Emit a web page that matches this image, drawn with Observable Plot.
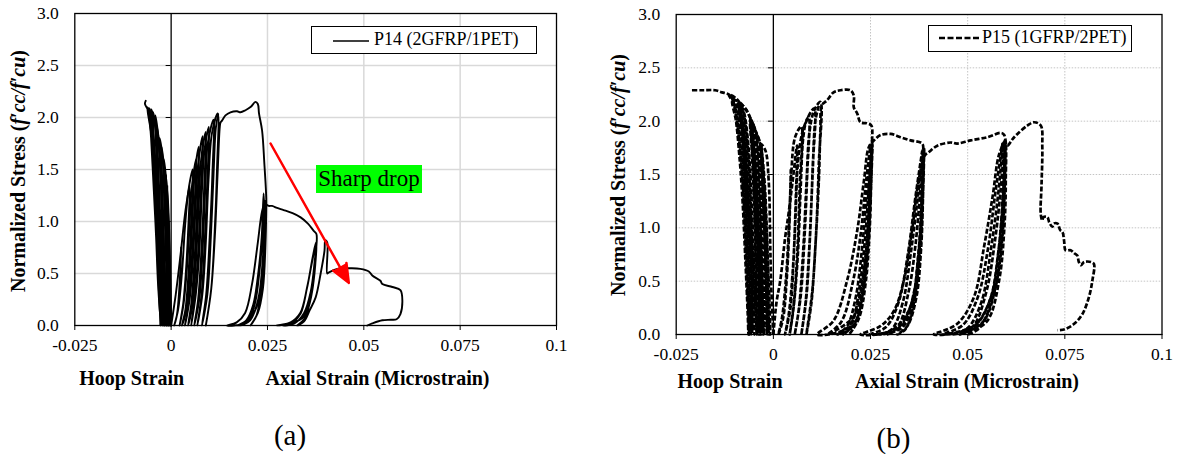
<!DOCTYPE html>
<html><head><meta charset="utf-8">
<script src="https://cdn.jsdelivr.net/npm/d3@7"></script>
<script src="https://cdn.jsdelivr.net/npm/@observablehq/plot@0.6"></script>
<style>
body{margin:0;background:#fff;}
#wrap{position:relative;width:1184px;height:454px;overflow:hidden;font-family:"Liberation Serif","Times New Roman",serif;color:#000;}
#wrap svg text{font-family:"Liberation Serif","Times New Roman",serif !important;}
.abs{position:absolute;white-space:nowrap;}
.xlab{font-weight:bold;font-size:20px;transform:translate(-50%,-50%);}
.ylab{font-weight:bold;font-size:20px;transform:translate(-50%,-50%) rotate(-90deg);}
.cap{font-size:29px;transform:translate(-50%,-50%);}
.legend{border:1.5px solid #000;font-size:18px;box-sizing:border-box;background:#fff;}
.sharp{background:#00ff00;font-size:23px;line-height:28px;text-align:center;}
</style></head><body><div id="wrap"></div>
<script>
// ---------- axes ----------
const xDomain = [-0.025, 0.1];
const xTicks = [-0.025, 0, 0.025, 0.05, 0.075, 0.1];
const xGrid = [0.025, 0.05, 0.075];
const yDomain = [0, 3];
const yTicks = [0, 0.5, 1, 1.5, 2, 2.5, 3];
const yGrid = [0.5, 1, 1.5, 2, 2.5];
const yAxisTick = 0.0013;

// ---------- P14 (2GFRP/1PET) ----------
const p14Hoop = [
[0,0],[-0.0002,0.4],[-0.0005,0.9],[-0.0010,1.35],
[-0.0008,0.9],[-0.0005,0.4],[-0.0003,0],
[-0.0005,0.4],[-0.0008,0.9],[-0.0012,1.35],[-0.0016,1.52],[-0.0019,1.6],
[-0.0016,1.2],[-0.0012,0.7],[-0.0010,0.3],[-0.0008,0],
[-0.0011,0.3],[-0.0014,0.7],[-0.0018,1.2],[-0.0022,1.6],[-0.0030,1.8],
[-0.0027,1.4],[-0.0021,0.9],[-0.0017,0.4],[-0.0013,0],
[-0.0017,0.45],[-0.0022,0.95],[-0.0028,1.45],[-0.0033,1.8],[-0.0041,2.02],
[-0.0038,1.6],[-0.0031,1.0],[-0.0024,0.45],[-0.0018,0],
[-0.0023,0.45],[-0.0030,1.0],[-0.0037,1.6],[-0.0043,1.95],[-0.0052,2.08],
[-0.0047,1.7],[-0.0040,1.1],[-0.0031,0.45],[-0.0023,0],
[-0.0029,0.45],[-0.0038,1.1],[-0.0046,1.7],[-0.0053,2.03],[-0.0062,2.10],
[-0.0049,1.78],[-0.0043,1.36],[-0.0037,0.88],[-0.0033,0.45],[-0.0028,0],
[-0.0031,0.45],[-0.0035,0.88],[-0.0041,1.36],[-0.0047,1.78],[-0.0057,2.05],[-0.0068,2.13],[-0.0066,2.16]
];
const p14HoopRepeat = [
[-0.0006,1.0],[-0.0004,0.5],[-0.0001,0],[-0.0003,0.5],[-0.0007,1.0],[-0.0013,1.45],
[-0.0011,1.0],[-0.0008,0.5],[-0.0006,0],[-0.0009,0.5],[-0.0013,1.0],[-0.0017,1.45],[-0.0025,1.72],
[-0.0022,1.25],[-0.0018,0.7],[-0.0014,0.25],[-0.0011,0],[-0.0015,0.25],[-0.0020,0.7],[-0.0025,1.25],[-0.0030,1.7],[-0.0036,1.9],
[-0.0033,1.5],[-0.0027,0.95],[-0.0021,0.4],[-0.0016,0],[-0.0020,0.4],[-0.0027,0.95],[-0.0034,1.5],[-0.0040,1.9],[-0.0047,2.05],
[-0.0043,1.65],[-0.0036,1.05],[-0.0028,0.45],[-0.0021,0],[-0.0026,0.45],[-0.0034,1.05],[-0.0042,1.65],[-0.0050,2.0],[-0.0057,2.09],
[-0.0052,1.8],[-0.0045,1.3],[-0.0039,0.85],[-0.0034,0.4],[-0.0026,0],[-0.0030,0.4],[-0.0036,0.85],[-0.0042,1.3],[-0.0050,1.8],[-0.0060,2.08]
];
const p14Axial = [
[0,0],[0.0012,0.3],[0.0025,0.7],[0.0037,1.1],[0.0048,1.35],
[0.0044,0.9],[0.0038,0.5],[0.0031,0.2],[0.0022,0],
[0.0032,0.2],[0.0040,0.5],[0.0047,0.9],[0.0053,1.3],[0.0065,1.6],
[0.0060,1.1],[0.0053,0.6],[0.0046,0.25],[0.0036,0],
[0.0048,0.25],[0.0056,0.6],[0.0063,1.1],[0.0070,1.55],[0.0082,1.82],
[0.0077,1.3],[0.0070,0.7],[0.0062,0.3],[0.0052,0],
[0.0064,0.3],[0.0073,0.7],[0.0080,1.3],[0.0087,1.7],[0.0098,1.91],
[0.0094,1.4],[0.0087,0.8],[0.0079,0.3],[0.0068,0],
[0.0081,0.3],[0.0090,0.8],[0.0097,1.4],[0.0106,1.85],[0.0121,2.04],
[0.0119,1.5],[0.0113,0.9],[0.0104,0.35],[0.0090,0],
[0.0104,0.35],[0.0114,0.9],[0.0121,1.5],[0.0126,1.9],[0.0128,1.95],
[0.0132,1.97],[0.0141,2.02],[0.0154,2.05],[0.0171,2.06],[0.0180,2.05],[0.0193,2.07],[0.0206,2.10],[0.0219,2.15],[0.0225,2.13],[0.0228,2.04],[0.0236,1.875],[0.0242,1.55],[0.0246,1.30],[0.0247,1.17],
[0.0244,0.8],[0.0236,0.45],[0.0222,0.18],[0.0200,0.04],[0.0172,0],
[0.0195,0.05],[0.0213,0.2],[0.0226,0.5],[0.0235,0.85],[0.0240,1.27],
[0.0241,0.9],[0.0236,0.55],[0.0226,0.25],[0.0205,0.05],[0.0180,0],
[0.0202,0.06],[0.0218,0.22],[0.0230,0.55],[0.0238,0.9],[0.0243,1.2],
[0.0242,0.8],[0.0233,0.4],[0.0215,0.12],[0.0190,0.02],[0.0145,0],
[0.0170,0.03],[0.0192,0.12],[0.0210,0.4],[0.0225,0.8],[0.0236,1.1],[0.0245,1.2],
[0.0244,0.7],[0.0238,0.35],[0.0225,0.12],[0.0206,0],
[0.0222,0.1],[0.0234,0.35],[0.0241,0.7],[0.0247,1.16],
[0.0253,1.15],[0.0262,1.15],[0.0275,1.13],[0.0292,1.11],[0.0315,1.08],[0.0336,1.04],[0.0355,0.98],[0.0370,0.91],[0.0377,0.88],
[0.0372,0.6],[0.0362,0.32],[0.0345,0.12],[0.0320,0.02],[0.0290,0],
[0.0315,0.03],[0.0336,0.115],[0.0353,0.37],[0.0370,0.69],[0.0377,0.79],
[0.0373,0.55],[0.0363,0.28],[0.0340,0.07],[0.0275,0],
[0.0310,0.03],[0.0335,0.12],[0.0352,0.35],[0.0367,0.65],[0.0376,0.80],
[0.0372,0.5],[0.0360,0.22],[0.0345,0.06],[0.0327,0],
[0.0345,0.04],[0.0360,0.15],[0.0375,0.27],[0.0388,0.5],[0.0398,0.72],[0.0400,0.82],
[0.0405,0.80],[0.0405,0.50],
[0.0409,0.51],[0.0431,0.545],[0.0466,0.55],[0.0491,0.545],[0.0513,0.52],[0.0522,0.48],[0.0543,0.43],[0.0548,0.40],[0.0574,0.37],[0.0595,0.34],[0.0600,0.24],[0.0595,0.11],[0.0585,0.06],[0.0570,0.055],[0.0548,0.05],[0.0522,0.02],[0.0509,0]
];
const p14AxialRepeat = [
[0.0026,0.75],[0.0022,0.4],[0.0015,0.1],[0.0008,0],[0.0018,0.15],[0.0028,0.5],[0.0036,0.95],[0.0045,1.3],[0.0056,1.5],
[0.0052,1.0],[0.0045,0.5],[0.0037,0.15],[0.0028,0],[0.0040,0.15],[0.0048,0.5],[0.0055,1.0],[0.0061,1.45],[0.0072,1.72],
[0.0068,1.2],[0.0061,0.65],[0.0052,0.2],[0.0044,0],[0.0056,0.2],[0.0065,0.65],[0.0072,1.2],[0.0078,1.6],[0.0090,1.86],
[0.0086,1.35],[0.0079,0.75],[0.0070,0.25],[0.0060,0],[0.0073,0.25],[0.0082,0.75],[0.0089,1.35],[0.0095,1.75],[0.0110,1.98],
[0.0107,1.45],[0.0100,0.85],[0.0091,0.3],[0.0080,0],[0.0094,0.3],[0.0103,0.85],[0.0110,1.45],[0.0116,1.9],[0.0122,2.03]
];

// ---------- P15 (1GFRP/2PET) ----------
const p15Hoop = [
[0,0],[-0.0005,0.4],[-0.0008,0.82],[-0.0012,1.44],[-0.0021,1.73],[-0.0034,1.79],
[-0.0031,1.5],[-0.0027,0.9],[-0.0025,0.4],[-0.0024,0],
[-0.0022,0.4],[-0.0022,0.9],[-0.0026,1.5],[-0.0032,1.78],
[-0.0028,1.4],[-0.0022,0.9],[-0.0018,0.4],[-0.0016,0],
[-0.0017,0.4],[-0.0020,0.9],[-0.0026,1.45],[-0.0035,1.8],[-0.0046,1.91],[-0.0059,2.02],
[-0.0055,1.7],[-0.0049,1.2],[-0.0045,0.6],[-0.0042,0],
[-0.0040,0.6],[-0.0044,1.2],[-0.0050,1.7],[-0.0058,2.0],
[-0.0050,1.75],[-0.0042,1.3],[-0.0036,0.7],[-0.0032,0],
[-0.0035,0.7],[-0.0040,1.3],[-0.0048,1.8],[-0.0060,2.02],
[-0.0046,1.91],[-0.0034,1.29],[-0.0029,0.6],[-0.0026,0],
[-0.0030,0.6],[-0.0036,1.29],[-0.0048,1.92],[-0.0062,2.05],[-0.0077,2.14],[-0.0089,2.18],
[-0.0083,2.0],[-0.0076,1.6],[-0.0069,1.0],[-0.0064,0.4],[-0.0061,0],
[-0.0058,0.4],[-0.0062,1.0],[-0.0070,1.6],[-0.0080,2.05],[-0.0088,2.17],
[-0.0077,2.10],[-0.0064,1.76],[-0.0051,0.82],[-0.0046,0.3],[-0.0043,0],
[-0.0047,0.3],[-0.0054,0.82],[-0.0066,1.76],[-0.0080,2.12],[-0.0095,2.21],[-0.0115,2.25],
[-0.0103,2.17],[-0.0094,2.0],[-0.0085,1.7],[-0.0077,1.3],[-0.0070,0.7],[-0.0065,0.25],[-0.0062,0],
[-0.0060,0.2],[-0.0064,0.6],[-0.0073,1.3],[-0.0084,1.9],[-0.0098,2.18],[-0.0115,2.25],[-0.0132,2.27],[-0.0150,2.29],[-0.0180,2.29],[-0.0210,2.29]
];
const p15HoopRepeat = [
[-0.0030,1.75],[-0.0026,1.3],[-0.0020,0.7],[-0.0012,0],[-0.0015,0.7],[-0.0022,1.3],[-0.0031,1.76],
[-0.0025,1.45],[-0.0017,0.9],[-0.0010,0.3],[-0.0008,0],[-0.0012,0.3],[-0.0016,0.9],[-0.0024,1.5],[-0.0033,1.78],
[-0.0045,1.9],[-0.0057,2.0],[-0.0052,1.6],[-0.0046,1.0],[-0.0041,0.4],[-0.0038,0],[-0.0037,0.4],[-0.0042,1.0],[-0.0049,1.6],[-0.0056,1.98],
[-0.0050,1.7],[-0.0044,1.2],[-0.0038,0.6],[-0.0035,0],[-0.0033,0.6],[-0.0039,1.2],[-0.0047,1.75],[-0.0058,2.01],
[-0.0072,2.12],[-0.0087,2.16],[-0.0080,1.9],[-0.0072,1.4],[-0.0064,0.8],[-0.0058,0.3],[-0.0055,0],[-0.0054,0.3],[-0.0059,0.8],[-0.0067,1.4],[-0.0076,1.9],[-0.0086,2.15],
[-0.0079,1.95],[-0.0070,1.5],[-0.0061,0.9],[-0.0053,0.35],[-0.0049,0],[-0.0050,0.35],[-0.0056,0.9],[-0.0064,1.5],[-0.0074,1.95],[-0.0087,2.17],
[-0.0105,2.2],[-0.0096,2.0],[-0.0088,1.7],[-0.0080,1.3],[-0.0072,0.7],[-0.0066,0.2],[-0.0064,0],[-0.0063,0.25],[-0.0068,0.7],[-0.0076,1.3],[-0.0085,1.75],[-0.0096,2.1],[-0.0108,2.23]
];
const p15Axial = [
[0,0],[0.0008,0.3],[0.0018,0.51],[0.0030,0.9],[0.0039,1.13],[0.0050,1.45],[0.0061,1.77],
[0.0058,1.3],[0.0052,0.7],[0.0044,0.25],[0.0030,0],
[0.0040,0.2],[0.0050,0.6],[0.0057,1.1],[0.0063,1.6],[0.0075,1.9],[0.0091,2.04],
[0.0087,1.5],[0.0080,0.9],[0.0070,0.35],[0.0055,0],
[0.0066,0.25],[0.0077,0.8],[0.0085,1.4],[0.0093,1.9],[0.0105,2.1],[0.0121,2.18],
[0.0117,1.6],[0.0110,0.95],[0.0100,0.4],[0.0085,0],
[0.0098,0.3],[0.0108,0.82],[0.0117,1.44],[0.0121,1.91],[0.0125,2.15],[0.0138,2.195],[0.0155,2.27],[0.0173,2.29],[0.0198,2.29],[0.0207,2.24],[0.0207,2.13],[0.0216,2.07],[0.0224,1.99],[0.0241,1.98],[0.0252,1.96],[0.0254,1.80],
[0.0252,1.5],[0.0248,1.0],[0.0238,0.5],[0.0220,0.15],[0.0195,0],
[0.0215,0.12],[0.0232,0.5],[0.0243,1.0],[0.0250,1.5],[0.0255,1.78],
[0.0250,1.3],[0.0242,0.8],[0.0228,0.35],[0.0205,0.08],[0.0165,0],
[0.0190,0.08],[0.0212,0.35],[0.0228,0.8],[0.0240,1.3],[0.0252,1.76],
[0.0247,1.2],[0.0236,0.7],[0.0218,0.3],[0.0190,0.06],[0.0113,0],
[0.0155,0.13],[0.0190,0.51],[0.0216,0.98],[0.0233,1.44],[0.0246,1.76],[0.0259,1.82],
[0.0276,1.87],[0.0302,1.88],[0.0327,1.85],[0.0353,1.82],[0.0383,1.79],[0.0386,1.73],
[0.0385,1.3],[0.0380,0.8],[0.0368,0.35],[0.0345,0.08],[0.0319,0],
[0.0340,0.05],[0.0362,0.3],[0.0376,0.8],[0.0383,1.3],[0.0388,1.75],
[0.0384,1.2],[0.0376,0.7],[0.0360,0.3],[0.0330,0.06],[0.0270,0],
[0.0305,0.05],[0.0333,0.3],[0.0355,0.8],[0.0372,1.3],[0.0385,1.74],
[0.0383,1.3],[0.0372,0.7],[0.0352,0.25],[0.0300,0.03],[0.0224,0],
[0.0276,0.08],[0.0310,0.22],[0.0336,0.51],[0.0357,0.98],[0.0374,1.45],[0.0390,1.68],[0.0400,1.71],
[0.0422,1.77],[0.0456,1.80],[0.0473,1.79],[0.0508,1.82],[0.0551,1.85],[0.0585,1.89],[0.0594,1.87],
[0.0598,1.44],[0.0594,0.98],[0.0581,0.51],[0.0551,0.13],[0.0499,0],
[0.0530,0.06],[0.0560,0.3],[0.0580,0.8],[0.0592,1.3],[0.0597,1.8],
[0.0594,1.3],[0.0584,0.8],[0.0565,0.35],[0.0530,0.08],[0.0460,0],
[0.0500,0.06],[0.0535,0.3],[0.0560,0.8],[0.0578,1.3],[0.0592,1.8],
[0.0590,1.3],[0.0578,0.75],[0.0555,0.3],[0.0510,0.06],[0.0413,0],
[0.0473,0.10],[0.0516,0.35],[0.0542,0.82],[0.0564,1.29],[0.0581,1.69],[0.0596,1.80],[0.0602,1.77],
[0.0615,1.83],[0.0628,1.88],[0.0654,1.96],[0.0671,1.99],[0.0688,1.96],[0.0692,1.76],[0.0690,1.4],[0.0688,1.13],[0.0692,1.07],[0.0695,1.10],[0.0705,1.10],[0.0710,1.05],[0.0718,1.01],[0.0722,1.04],[0.0731,1.04],[0.0738,0.98],[0.0744,0.96],[0.0748,0.88],[0.0752,0.79],[0.0765,0.79],[0.0775,0.76],[0.0782,0.74],[0.0786,0.68],[0.0791,0.65],[0.0800,0.68],[0.0817,0.68],[0.0825,0.66],[0.0821,0.51],[0.0812,0.35],[0.0795,0.19],[0.0774,0.10],[0.0750,0.05],[0.0731,0.04]
];
const p15AxialRepeat = [
[0.0045,1.55],[0.0041,1.0],[0.0034,0.5],[0.0025,0.15],[0.0013,0],[0.0022,0.15],[0.0032,0.5],[0.0040,1.0],[0.0046,1.5],[0.0056,1.85],
[0.0072,1.95],[0.0068,1.4],[0.0062,0.8],[0.0053,0.3],[0.0042,0],[0.0052,0.25],[0.0063,0.75],[0.0070,1.35],[0.0077,1.85],[0.0085,2.0],
[0.0105,2.12],[0.0101,1.55],[0.0094,0.9],[0.0085,0.35],[0.0072,0],[0.0083,0.3],[0.0093,0.85],[0.0101,1.5],[0.0108,2.0],[0.0118,2.16]
];
const p15AxialRepeat2 = [
[0.0253,1.78],[0.0251,1.4],[0.0245,0.9],[0.0233,0.45],[0.0212,0.12],[0.0180,0],[0.0202,0.1],[0.0222,0.45],[0.0236,0.9],[0.0246,1.4],[0.0254,1.8],
[0.0250,1.45],[0.0244,0.95],[0.0231,0.5],[0.0210,0.18],[0.0140,0],[0.0175,0.12],[0.0205,0.5],[0.0225,0.95],[0.0239,1.45],[0.0250,1.78]
];
const p15AxialRepeat3 = [
[0.0387,1.74],[0.0384,1.35],[0.0377,0.85],[0.0362,0.4],[0.0335,0.1],[0.0295,0],[0.0322,0.08],[0.0348,0.4],[0.0366,0.85],[0.0378,1.35],[0.0386,1.74],
[0.0382,1.3],[0.0373,0.75],[0.0356,0.3],[0.0320,0.06],[0.0248,0],[0.0290,0.07],[0.0322,0.3],[0.0346,0.75],[0.0366,1.3],[0.0383,1.72]
];
const p15AxialRepeat4 = [
[0.0596,1.82],[0.0595,1.4],[0.0589,0.9],[0.0572,0.45],[0.0540,0.12],[0.0480,0],[0.0515,0.08],[0.0548,0.4],[0.0571,0.9],[0.0586,1.4],[0.0595,1.82],
[0.0592,1.35],[0.0582,0.8],[0.0560,0.35],[0.0520,0.09],[0.0435,0],[0.0488,0.09],[0.0526,0.35],[0.0552,0.8],[0.0572,1.35],[0.0590,1.8]
];

// annotation (panel a)
const sharpDropArrow = [{x1: 0.0258, y1: 1.75, x2: 0.0461, y2: 0.41}];

function toRows(parts) {
  return parts.flatMap(([name, pts]) => pts.map(([x, y]) => ({x, y, seg: name})));
}
const fmtX = d => d === 0 ? "0" : String(d);

function panel(o) {
  return Plot.plot({
    width: o.width, height: o.height,
    marginLeft: o.ml, marginRight: o.mr, marginTop: o.mt, marginBottom: o.mb,
    style: {fontFamily: "Liberation Serif, Times New Roman, serif", fontSize: "17.5px", color: "black", background: "transparent", overflow: "visible"},
    x: {domain: xDomain, ticks: xTicks, tickFormat: fmtX, tickSize: 5, tickPadding: 8, label: null},
    y: {domain: yDomain, ticks: yTicks, tickFormat: d => d.toFixed(1), tickSize: 0, tickPadding: 16, label: null},
    marks: [
      Plot.ruleY(yGrid, {stroke: o.gridColor, strokeWidth: o.gridW, strokeDasharray: o.gridDash}),
      Plot.ruleX(xGrid, {stroke: o.gridColor, strokeWidth: o.gridW, strokeDasharray: o.gridDash}),
      Plot.ruleX([0], {stroke: "black", strokeWidth: 1.3}),
      Plot.ruleY(yTicks, {x1: -yAxisTick, x2: 0, stroke: "black", strokeWidth: 1}),
      Plot.line(o.rows, {x: "x", y: "y", z: "seg", stroke: "black", strokeWidth: o.sw, strokeDasharray: o.dash, strokeLinecap: o.cap, curve: "catmull-rom"}),
      Plot.frame({stroke: "black", strokeWidth: 1.3}),
      ...(o.extra || [])
    ]
  });
}

const wrap = document.getElementById("wrap");
function place(el, left, top) { el.style.position = "absolute"; el.style.left = left + "px"; el.style.top = top + "px"; wrap.appendChild(el); return el; }

const plotA = panel({
  width: 592, height: 360, ml: 74.3, mr: 36, mt: 13, mb: 35,
  gridColor: "#d9d9d9", gridW: 1.5, gridDash: null,
  sw: 1.9, dash: null, cap: "round",
  rows: toRows([["hoop", p14Hoop], ["hoopR", p14HoopRepeat], ["axial", p14Axial], ["axialR", p14AxialRepeat]]),
  extra: [Plot.arrow(sharpDropArrow, {x1: "x1", y1: "y1", x2: "x2", y2: "y2", stroke: "#ff0000", fill: "#ff0000", strokeWidth: 2.5, headLength: 12, headAngle: 45})]
});
place(plotA, 0, 0);

const plotB = panel({
  width: 592, height: 370, ml: 83.7, mr: 22.5, mt: 14, mb: 36,
  gridColor: "#c4c4c4", gridW: 1, gridDash: "1.5,1.5",
  sw: 2.7, dash: "5,2", cap: "butt",
  rows: toRows([["hoop", p15Hoop], ["hoopR", p15HoopRepeat], ["axial", p15Axial], ["axR1", p15AxialRepeat], ["axR2", p15AxialRepeat2], ["axR3", p15AxialRepeat3], ["axR4", p15AxialRepeat4]])
});
place(plotB, 592, 0);

function div(cls, html, left, top) {
  const d = document.createElement("div");
  d.className = "abs " + cls; d.innerHTML = html;
  d.style.left = left + "px"; d.style.top = top + "px";
  wrap.appendChild(d); return d;
}
// axis titles
div("xlab", "Hoop Strain", 131.7, 378);
div("xlab", "Axial Strain (Microstrain)", 377.5, 378);
div("xlab", "Hoop Strain", 730, 380.5);
div("xlab", "Axial Strain (Microstrain)", 967, 380.5);
div("ylab", "Normalized Stress (<i>f′cc/f′cu</i>)", 17.5, 171);
div("ylab", "Normalized Stress (<i>f′cc/f′cu</i>)", 618, 175);
div("cap", "(a)", 290, 435);
div("cap", "(b)", 893.5, 438);

// legends
const legA = div("legend", "", 311, 25.7);
legA.style.width = "226px"; legA.style.height = "28.6px";
legA.innerHTML = '<svg width="40" height="10" style="position:absolute;left:20px;top:9px"><line x1="1" y1="5" x2="37" y2="5" stroke="black" stroke-width="1.5"/></svg><span style="position:absolute;left:62px;top:2px">P14 (2GFRP/1PET)</span>';
const legB = div("legend", "", 928, 24.7);
legB.style.width = "204px"; legB.style.height = "27px";
legB.innerHTML = '<svg width="46" height="10" style="position:absolute;left:9px;top:7px"><line x1="1" y1="5" x2="43" y2="5" stroke="black" stroke-width="2.6" stroke-dasharray="6,2.5"/></svg><span style="position:absolute;left:53px;top:1px">P15 (1GFRP/2PET)</span>';

// annotation box
const sd = div("sharp", "Sharp drop", 316, 165);
sd.style.width = "106px"; sd.style.height = "28px";
</script>
</body></html>
